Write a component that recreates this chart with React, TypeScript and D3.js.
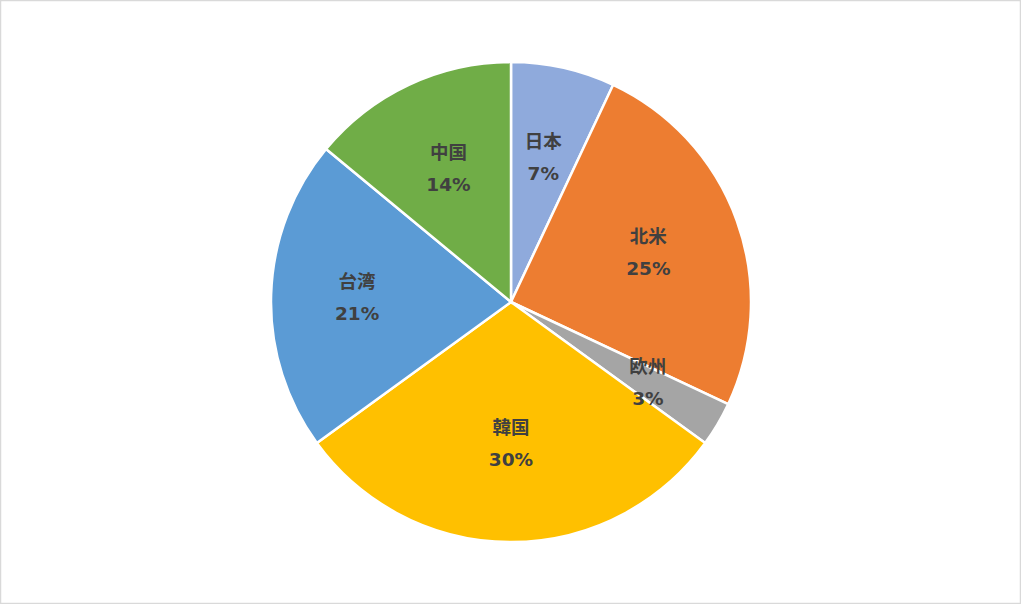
import React from "react";
import * as d3 from "d3";

const regions = ["日本", "北米", "欧州", "韓国", "台湾", "中国"];
const shares = [7, 25, 3, 30, 21, 14];
const colors = ["#8FAADC", "#ED7D31", "#A5A5A5", "#FFC000", "#5B9BD5", "#70AD47"];
// label distance from centre (layout, px)
const labelDist = [148, 146, 159, 141, 154, 147];

const W = 1021;
const H = 604;
const cx = 511;
const cy = 302;
const R = 240;

export default function App() {
  const pie = d3.pie<number>().sort(null).value((d) => d);
  const arcs = pie(shares);
  const arc = d3.arc<d3.PieArcDatum<number>>().innerRadius(0).outerRadius(R);
  const font = "'DejaVu Sans', 'Noto Sans CJK JP', sans-serif";
  return (
    <div style={{ position: "fixed", left: 0, top: 0 }}>
      <svg width={W} height={H} style={{ display: "block" }}>
        <rect x={0.5} y={0.5} width={W - 1} height={H - 1} fill="#fff" stroke="#D9D9D9" strokeWidth={1.5} />
        <g transform={`translate(${cx},${cy})`}>
          {arcs.map((a, i) => (
            <path key={i} d={arc(a) || ""} fill={colors[i]} stroke="#fff" strokeWidth={2.5} />
          ))}
          {arcs.map((a, i) => {
            const mid = (a.startAngle + a.endAngle) / 2;
            const lr = labelDist[i];
            const x = Math.sin(mid) * lr;
            const y = -Math.cos(mid) * lr;
            return (
              <g key={"l" + i} transform={`translate(${x},${y})`} fill="#404040" fontFamily={font} fontWeight="bold" fontSize={18.5} textAnchor="middle">
                <text y={-16} dominantBaseline="central">{regions[i]}</text>
                <text y={16} dominantBaseline="central">{shares[i]}%</text>
              </g>
            );
          })}
        </g>
      </svg>
    </div>
  );
}
